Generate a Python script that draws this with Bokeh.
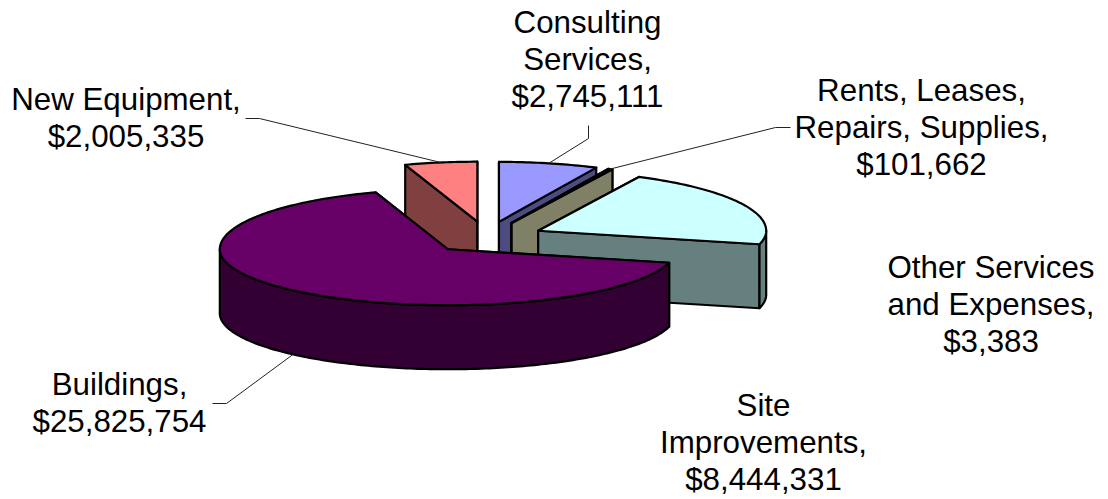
import numpy as np
from bokeh.plotting import figure
from bokeh.embed import file_html
from bokeh.resources import INLINE
from bokeh.core.properties import value

categories = ["Consulting Services", "Rents, Leases, Repairs, Supplies", "Other Services and Expenses",
              "Site Improvements", "Buildings", "New Equipment"]
amounts = [2745111, 101662, 3383, 8444331, 25825754, 2005335]
top_colors = ["#9999FF", "#993366", "#FFFFCC", "#CCFFFF", "#660066", "#FF8080"]
wall_colors = ["#4C4C80", "#4C1933", "#808066", "#668080", "#330033", "#804040"]
label_lines = [["Consulting", "Services,"], ["Rents, Leases,", "Repairs, Supplies,"],
               ["Other Services", "and Expenses,"], ["Site", "Improvements,"], ["Buildings,"], ["New Equipment,"]]

# layout (pixels of the page)
W, H = 1108, 499
CX, CY, A, B_BACK, B_FRONT, DEPTH = 486, 237, 228, 60, 56, 64
EXPLODE_X, EXPLODE_Y = 57, 16
FONT_PX, LINE_H = 31.3, 37
label_x = [587, 921, 990.5, 763, 119, 125.5]
label_y = [22, 90, 267, 405, 384, 99]
leader_elbows = {0: [(588, 125), (588, 138)], 1: [(790, 127), (775, 127)], 4: [(212, 403), (226, 403)], 5: [(245, 118), (259, 118)]}

p = figure(width=W, height=H, x_range=(0, W), y_range=(H, 0), toolbar_location=None,
           output_backend="svg", min_border=0, outline_line_color=None)
p.axis.visible = False
p.grid.visible = False

fr = np.array(amounts, dtype=float) / sum(amounts) * 360
ends = np.cumsum(fr)
starts = ends - fr
mids = (starts + ends) / 2


def apex(i):
    t = np.radians(mids[i])
    return CX + EXPLODE_X * np.sin(t), CY - EXPLODE_Y * np.cos(t)


def rim(i, deg):
    ax, ay = apex(i)
    t = np.radians(deg)
    c = np.cos(t)
    return ax + A * np.sin(t), ay - (B_BACK if c > 0 else B_FRONT) * c


def arc(i, d0, d1):
    n = max(2, int(abs(d1 - d0)) + 2)
    pts = [rim(i, d) for d in np.linspace(d0, d1, n)]
    return [q[0] for q in pts], [q[1] for q in pts]


def poly(xs, ys, color):
    p.patch(list(xs), list(ys), fill_color=color, line_color="black", line_width=2.2, line_join="round")


def edge_wall(i, deg):
    ax, ay = apex(i)
    tx, ty = rim(i, deg)
    poly([ax, tx, tx, ax], [ay, ty, ty + DEPTH, ay + DEPTH], wall_colors[i])


for i in [5, 0, 1, 2, 3, 4]:
    edge_wall(i, starts[i])
    edge_wall(i, ends[i])
    d0, d1 = max(starts[i], 90), min(ends[i], 270)
    if d1 > d0:
        xs, ys = arc(i, d0, d1)
        poly(xs + xs[::-1], ys + [y + DEPTH for y in ys[::-1]], wall_colors[i])
    ax, ay = apex(i)
    xs, ys = arc(i, starts[i], ends[i])
    poly([ax] + xs, [ay] + ys, top_colors[i])

for i, elbow in leader_elbows.items():
    tx, ty = rim(i, mids[i])
    if np.cos(np.radians(mids[i])) < 0:
        ty += DEPTH
    pts = elbow + [(tx, ty)]
    p.line([q[0] for q in pts], [q[1] for q in pts], line_color="#222222", line_width=1)

tx, ty, tl = [], [], []
for i in range(len(categories)):
    lines = label_lines[i] + [f"${amounts[i]:,}"]
    for j, s in enumerate(lines):
        tx.append(label_x[i])
        ty.append(label_y[i] + j * LINE_H)
        tl.append(s)
p.text(tx, ty, text=tl, text_font=value("Liberation Sans"), text_font_size=f"{FONT_PX}px",
       text_align="center", text_baseline="middle", text_color="black")

open("out.html", "w").write(file_html(p, INLINE))
